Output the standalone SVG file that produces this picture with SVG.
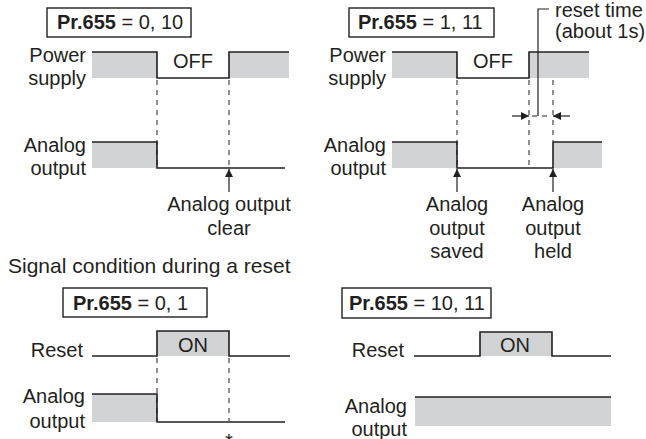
<svg xmlns="http://www.w3.org/2000/svg" width="646" height="439" viewBox="0 0 646 439">
<defs>
<style>
text{font-family:"Liberation Sans",Arial,sans-serif;font-size:20px;fill:#231f20}
.b{font-weight:bold}
.m{text-anchor:middle}
.e{text-anchor:end}
.h{font-size:21px}
.sig{fill:none;stroke:#231f20;stroke-width:1.6}
.gray{fill:#d1d3d4;stroke:none}
.box{fill:#fff;stroke:#231f20;stroke-width:1.4}
.dash{stroke:#231f20;stroke-width:1;stroke-dasharray:5 5;fill:none}
.ln{stroke:#231f20;stroke-width:1.2;fill:none}
</style>
<marker id="ah" viewBox="0 0 10 10" refX="10" refY="5" markerWidth="8" markerHeight="8" markerUnits="userSpaceOnUse" orient="auto">
<path d="M0,0 L10,5 L0,10 z" fill="#231f20"/>
</marker>
</defs>
<rect width="646" height="439" fill="#fff"/>

<g id="panel-tl">
<rect class="box" x="47" y="8" width="144" height="29"/>
<text x="57" y="29"><tspan class="b">Pr.655</tspan> = 0, 10</text>
<text class="e" x="86" y="62">Power</text>
<text class="e" x="86" y="85">supply</text>
<rect class="gray" x="92" y="52" width="65" height="26"/>
<rect class="gray" x="229" y="52" width="60" height="26"/>
<polyline class="sig" points="92,52 157,52 157,78 229,78 229,52 289,52"/>
<text class="m" x="193" y="68">OFF</text>
<text class="e" x="86" y="152">Analog</text>
<text class="e" x="86" y="175">output</text>
<rect class="gray" x="92" y="142" width="65" height="26"/>
<polyline class="sig" points="92,142 157,142 157,168 285,168"/>
<text class="m" x="229" y="211">Analog output</text>
<text class="m" x="229" y="235">clear</text>
</g>

<g id="panel-tr">
<rect class="box" x="349" y="8" width="145" height="29"/>
<text x="358" y="29"><tspan class="b">Pr.655</tspan> = 1, 11</text>
<text class="e" x="386" y="62">Power</text>
<text class="e" x="386" y="85">supply</text>
<rect class="gray" x="392" y="52" width="65" height="26"/>
<rect class="gray" x="529" y="52" width="60" height="26"/>
<polyline class="sig" points="392,52 457,52 457,78 529,78 529,52 589,52"/>
<text class="m" x="493" y="68">OFF</text>
<text x="555" y="17">reset time</text>
<text x="555" y="38">(about 1s)</text>
<text class="e" x="386" y="152">Analog</text>
<text class="e" x="386" y="175">output</text>
<rect class="gray" x="392" y="142" width="65" height="26"/>
<rect class="gray" x="553" y="142" width="49" height="26"/>
<polyline class="sig" points="392,142 457,142 457,168 553,168 553,142 602,142"/>
<text class="m" x="457" y="211">Analog</text>
<text class="m" x="457" y="235">output</text>
<text class="m" x="457" y="258">saved</text>
<text class="m" x="553" y="211">Analog</text>
<text class="m" x="553" y="235">output</text>
<text class="m" x="553" y="258">held</text>
</g>

<text class="h" x="8" y="273">Signal condition during a reset</text>

<g id="panel-bl">
<rect class="box" x="63" y="288" width="144" height="29"/>
<text x="73" y="310"><tspan class="b">Pr.655</tspan> = 0, 1</text>
<text class="e" x="83" y="357">Reset</text>
<rect class="gray" x="157" y="331" width="72" height="25"/>
<polyline class="sig" points="92,356 157,356 157,331 229,331 229,356 290,356"/>
<text class="m" x="193" y="352">ON</text>
<text class="e" x="85" y="403">Analog</text>
<text class="e" x="85" y="428">output</text>
<rect class="gray" x="92" y="394" width="65" height="28"/>
<polyline class="sig" points="92,394 157,394 157,422 285,422"/>
<text class="m" x="229" y="448">*</text>
</g>

<g id="panel-br">
<rect class="box" x="342" y="288" width="149" height="30"/>
<text x="349" y="310"><tspan class="b">Pr.655</tspan> = 10, 11</text>
<text class="e" x="404" y="357">Reset</text>
<rect class="gray" x="480" y="332" width="72" height="24"/>
<polyline class="sig" points="414,356 480,356 480,332 552,332 552,356 611,356"/>
<text class="m" x="515" y="352">ON</text>
<text class="e" x="407" y="413">Analog</text>
<text class="e" x="407" y="436">output</text>
<rect class="gray" x="415" y="397" width="196" height="29"/>
<line class="sig" x1="415" y1="397" x2="611" y2="397"/>
</g>

<g id="connectors">
<line class="dash" x1="157" y1="80" x2="157" y2="167"/>
<line class="dash" x1="229" y1="80" x2="229" y2="167"/>
<line class="ln" x1="229" y1="192" x2="229" y2="169" marker-end="url(#ah)"/>
<line class="dash" x1="457" y1="80" x2="457" y2="167"/>
<line class="dash" x1="529" y1="80" x2="529" y2="167"/>
<line class="dash" x1="553" y1="80" x2="553" y2="141"/>
<line class="ln" x1="512" y1="116" x2="529" y2="116" marker-end="url(#ah)"/>
<line class="ln" x1="570" y1="116" x2="553" y2="116" marker-end="url(#ah)"/>
<line class="dash" x1="532" y1="116" x2="551" y2="116"/>
<polyline class="ln" points="538,116 538,9 549,9"/>
<line class="ln" x1="457" y1="192" x2="457" y2="169" marker-end="url(#ah)"/>
<line class="ln" x1="553" y1="192" x2="553" y2="169" marker-end="url(#ah)"/>
<line class="dash" x1="157" y1="358" x2="157" y2="421"/>
<line class="dash" x1="229" y1="358" x2="229" y2="421"/>
</g>
</svg>
